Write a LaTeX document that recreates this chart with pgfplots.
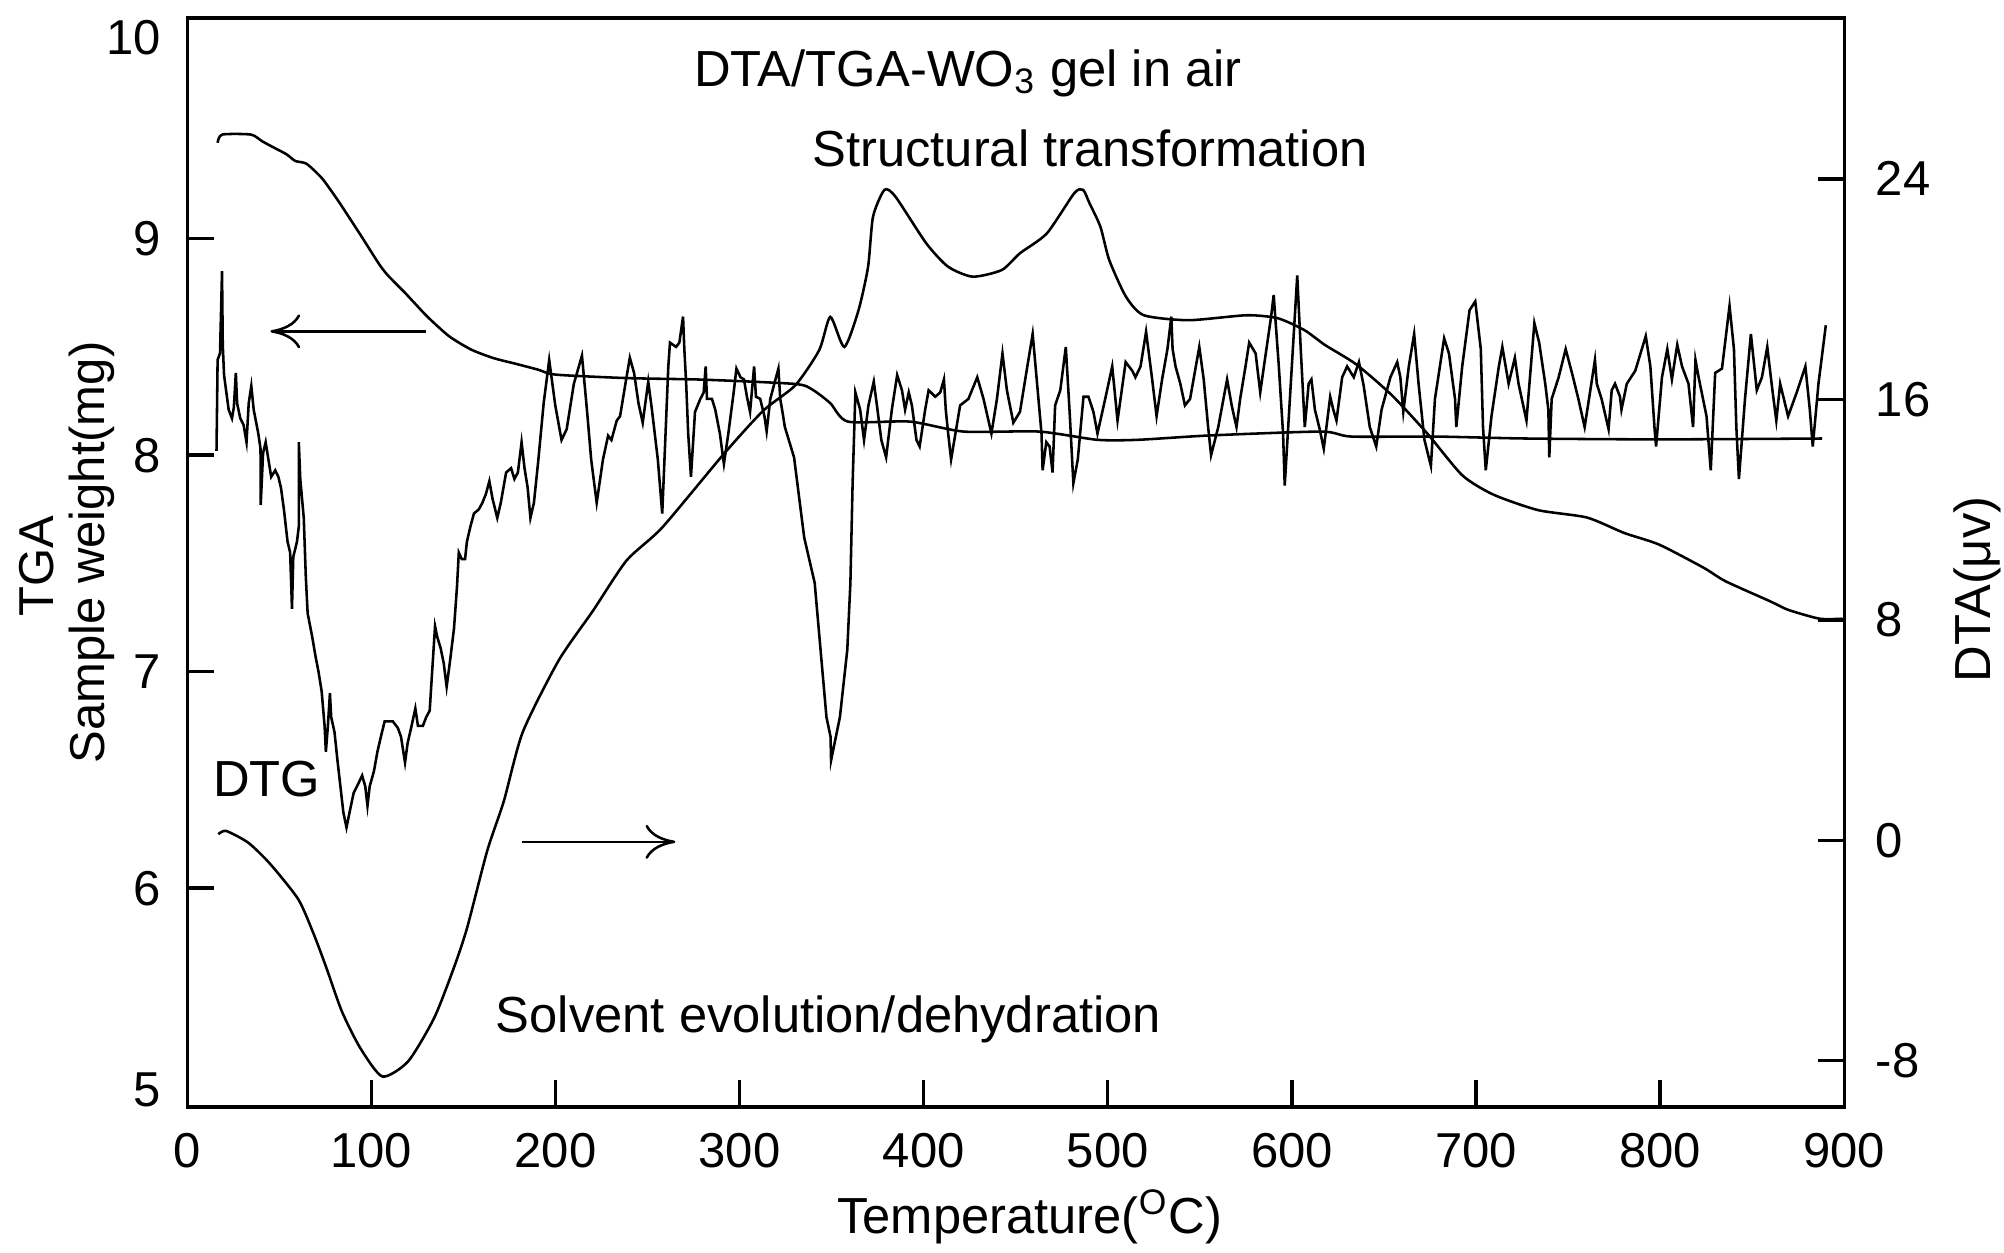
\documentclass[border=0pt]{standalone}
\usepackage{fontspec}
\setmainfont{Liberation Sans}
\usepackage{pgfplots}
\pgfplotsset{compat=1.18}
\usetikzlibrary{arrows.meta}
\newcommand{\annfont}{\fontsize{11.9}{14}\selectfont}
\newcommand{\tickfont}{\fontsize{11.5}{13.5}\selectfont}
\pgfplotsset{
  commonax/.style={
    scale only axis, width=388.95pt, height=255.6pt,
    xmin=0, xmax=900,
    tick align=inside, major tick length=6.2pt,
    tick style={line width=0.8pt, black},
    tick label style={font=\tickfont},
    /pgf/number format/assume math mode=true,
  }
}
\begin{document}
\begin{tikzpicture}
\begin{axis}[commonax, name=ax, clip=false,
  line width=0.8pt,
  ymin=4.99, ymax=10.02,
  xtick={0,100,...,900}, xtick pos=left,
  ytick={6,7,8,9}, ytick pos=left,
  extra y ticks={5.07,9.93}, extra y tick labels={5,10},
  extra y tick style={tick style={draw=none}},
  xticklabel style={yshift=-2.4pt},
  yticklabel style={xshift=-2.5pt},
]
% TGA
\addplot[black, line width=0.6pt, smooth, tension=0.4] coordinates {
(16.5,9.443) (19.0,9.481) (34.6,9.481) (40.7,9.450) (46.8,9.422) (53.9,9.390)
(58.7,9.359) (64.8,9.346) (73.1,9.280) (80.3,9.196) (85.2,9.134) (94.6,9.011)
(103.8,8.888) (108.7,8.833) (118.4,8.749) (130.3,8.641) (142.3,8.549) (154.4,8.487)
(166.5,8.448) (178.5,8.422) (190.6,8.395) (200.3,8.372) (239.0,8.356) (279.7,8.349)
(330.1,8.329) (339.7,8.302) (349.3,8.240) (358.9,8.155) (392.7,8.155) (421.8,8.109)
(462.8,8.109) (494.3,8.071) (516.4,8.071) (555.1,8.091) (615.9,8.109) (632.3,8.086)
(678.3,8.086) (727.2,8.077) (800.0,8.073) (888.0,8.077)
};
% DTG
\addplot[black, line width=0.6pt] coordinates {
(15.9,8.02) (16.5,8.44) (17.8,8.47) (18.9,8.85) (19.3,8.51) (20.0,8.37) (22.5,8.21)
(24.3,8.17) (25.3,8.22) (26.4,8.38) (27.1,8.24) (28.8,8.17) (30.6,8.14) (32.2,8.06)
(33.4,8.24) (34.8,8.32) (36.1,8.21) (38.6,8.10) (39.8,8.03) (39.9,7.77) (41.2,8.01)
(42.6,8.06) (43.9,7.99) (45.6,7.90) (47.8,7.93) (49.5,7.90) (50.9,7.85) (52.5,7.75)
(54.5,7.60) (55.9,7.55) (56.9,7.29) (57.6,7.53) (59.6,7.60) (60.6,7.67) (60.6,8.06)
(61.4,7.89) (63.3,7.71) (64.4,7.44) (65.4,7.27) (67.9,7.16) (69.7,7.07) (71.3,7.00)
(73.0,6.91) (74.6,6.75) (75.3,6.63) (76.4,6.75) (77.5,6.90) (78.2,6.79) (80.0,6.72)
(81.6,6.59) (83.2,6.47) (84.8,6.35) (86.5,6.28) (88.4,6.36) (90.4,6.44) (92.2,6.47)
(95.0,6.52) (96.7,6.47) (97.9,6.38) (99.1,6.47) (101.4,6.54) (103.3,6.63) (105.2,6.70)
(107.2,6.77) (109.9,6.77) (111.7,6.77) (114.4,6.74) (116.1,6.70) (118.3,6.58) (119.7,6.67)
(121.6,6.74) (123.9,6.83) (125.3,6.75) (128.0,6.75) (129.8,6.79) (131.7,6.82) (132.8,6.97)
(134.6,7.21) (135.8,7.16) (137.6,7.11) (139.3,7.04) (140.9,6.93) (142.9,7.06) (144.9,7.20)
(146.5,7.39) (147.5,7.55) (149.1,7.52) (150.9,7.52) (151.9,7.60) (153.8,7.67) (155.7,7.73)
(158.4,7.75) (160.3,7.78) (162.2,7.82) (164.1,7.88) (165.8,7.80) (168.4,7.71) (170.3,7.78)
(173.2,7.92) (175.9,7.94) (177.7,7.89) (179.6,7.92) (181.6,8.06) (183.2,7.94) (184.9,7.85)
(186.4,7.71) (188.3,7.78) (190.5,7.96) (193.6,8.24) (196.6,8.44)
(199.9,8.23) (203.3,8.07) (206.1,8.12) (210.0,8.33) (214.4,8.46) (217.1,8.21) (219.4,7.98)
(222.4,7.78) (225.8,7.98) (228.6,8.09) (230.4,8.07) (233.3,8.16) (235.1,8.18) (238.0,8.33)
(240.4,8.45) (242.7,8.38) (245.1,8.24) (247.4,8.15) (250.4,8.34) (252.4,8.21) (255.6,7.98)
(258.0,7.73) (261.3,8.41) (262.2,8.52) (265.5,8.50) (267.3,8.52) (269.3,8.64) (270.0,8.49)
(271.0,8.33) (272.1,8.10) (273.6,7.90) (275.8,8.20) (278.7,8.26) (280.5,8.29) (281.6,8.41)
(282.3,8.26) (285.0,8.26) (286.8,8.21) (289.3,8.10) (291.5,7.96) (293.9,8.10) (296.8,8.29)
(298.3,8.40) (300.5,8.36) (302.4,8.35) (304.0,8.27) (305.7,8.20) (307.9,8.41) (308.9,8.27)
(311.2,8.26) (313.5,8.18) (314.7,8.11) (316.7,8.26) (319.5,8.35) (321.1,8.40) (322.1,8.26)
(323.3,8.20) (324.6,8.13)
(329.6,7.99) (335.1,7.62) (340.8,7.41) (344.0,7.10) (347.2,6.79) (349.4,6.70) (349.7,6.59)
(354.5,6.79) (358.5,7.10) (360.2,7.41) (361.4,7.87) (362.9,8.29)
(365.5,8.21) (367.6,8.07) (370.0,8.23) (372.9,8.34) (374.6,8.23) (377.0,8.07) (379.6,7.99)
(382.7,8.21) (385.6,8.37) (388.2,8.30) (389.9,8.21) (391.9,8.29) (393.6,8.23) (396.1,8.07)
(397.8,8.04) (400.8,8.21) (402.7,8.30) (406.3,8.27) (409.0,8.29) (411.0,8.35) (412.0,8.21)
(413.3,8.10) (414.9,7.98)
(419.8,8.23) (424.3,8.26) (429.1,8.36) (432.5,8.26) (436.8,8.10) (439.8,8.26) (442.8,8.47)
(445.2,8.30) (448.7,8.15) (452.3,8.20) (456.3,8.41) (459.2,8.56) (461.6,8.33) (464.0,8.10)
(464.6,7.93) (466.6,8.06) (468.4,8.04) (470.0,7.92) (471.4,8.23) (474.2,8.30) (477.2,8.50)
(479.4,8.18) (481.3,7.87) (483.7,7.98) (486.8,8.27) (489.5,8.27) (492.2,8.20) (494.4,8.10)
(498.6,8.26) (502.4,8.41) (505.3,8.16) (509.7,8.43) (513.3,8.39) (515.0,8.36) (517.8,8.41)
(520.8,8.57) (524.1,8.35) (526.5,8.18) (529.5,8.35) (532.4,8.49) (534.5,8.64) (535.2,8.49)
(536.8,8.41) (539.4,8.33) (541.9,8.23) (544.7,8.26) (549.7,8.50) (552.1,8.35) (554.5,8.13)
(556.1,8.00) (560.0,8.13) (564.8,8.35) (567.3,8.23) (569.9,8.13) (571.9,8.26) (574.8,8.41)
(576.8,8.52) (580.3,8.47) (582.8,8.29) (584.8,8.41) (588.7,8.64) (590.1,8.74) (592.9,8.41)
(595.2,8.10) (596.1,7.86) (602.9,8.83) (604.8,8.49) (607.0,8.13) (609.1,8.33) (610.6,8.35)
(612.5,8.21) (615.1,8.12) (617.3,8.03) (620.8,8.27) (622.5,8.21) (624.2,8.16) (627.3,8.36)
(630.0,8.41) (633.6,8.36) (636.4,8.43) (639.0,8.32) (642.3,8.13) (645.8,8.04) (648.7,8.21)
(653.5,8.36) (657.2,8.43)
(658.9,8.36) (660.5,8.20) (663.5,8.41) (666.4,8.56) (668.8,8.33) (672.0,8.07) (675.5,7.95)
(677.7,8.26) (682.7,8.54) (685.3,8.47) (688.6,8.26) (689.3,8.13) (692.5,8.41) (696.5,8.67)
(699.6,8.71) (702.6,8.49) (703.8,8.13) (705.3,7.93) (708.4,8.18) (712.4,8.41) (714.3,8.50)
(717.7,8.33) (721.1,8.45) (723.1,8.33) (727.4,8.16) (731.7,8.61) (734.3,8.52) (737.6,8.33)
(739.3,8.21) (739.8,7.99) (741.1,8.26) (744.9,8.36) (748.7,8.49) (752.1,8.38) (755.6,8.26)
(759.0,8.13) (763.0,8.35) (764.6,8.44) (765.6,8.33) (768.2,8.26) (772.0,8.12) (773.7,8.30)
(775.5,8.33) (778.2,8.27) (779.0,8.21) (781.9,8.33) (786.5,8.39) (792.2,8.55) (794.7,8.41)
(797.0,8.12) (797.8,8.04) (801.0,8.36) (803.9,8.49) (806.4,8.35) (809.3,8.51) (811.9,8.41)
(815.4,8.33) (817.9,8.13) (819.2,8.44) (820.9,8.36) (825.2,8.18) (827.5,7.93) (829.9,8.38)
(833.6,8.40) (837.7,8.69) (840.1,8.49) (841.4,8.13) (842.8,7.89) (846.1,8.26) (849.3,8.56)
(852.5,8.30) (855.3,8.36) (858.2,8.50) (860.7,8.32) (863.1,8.16) (865.2,8.33) (869.5,8.18)
(874.2,8.29) (878.9,8.41) (881.3,8.21) (882.9,8.04) (886.0,8.33) (890.0,8.60)
};
% annotations
\draw[line width=0.6pt, -{Computer Modern Rightarrow[length=7pt,width=8pt]}] (axis cs:129.5,8.572) -- (axis cs:45.2,8.572);
\draw[line width=0.6pt, -{Computer Modern Rightarrow[length=7pt,width=8pt]}] (axis cs:182.0,6.214) -- (axis cs:265.1,6.214);
\node[font=\annfont, anchor=base west, inner sep=0pt] at (axis description cs:0.3049,0.9372) {DTA/TGA-WO\textsubscript{3} gel in air};
\node[font=\annfont, anchor=base west, inner sep=0pt] at (axis description cs:0.3763,0.8634) {Structural transformation};
\node[font=\annfont, anchor=base west, inner sep=0pt] at (axis description cs:0.0147,0.2852) {DTG};
\node[font=\annfont, anchor=base west, inner sep=0pt] at (axis description cs:0.1853,0.0681) {Solvent evolution/dehydration};
\node[font=\annfont, anchor=base west, inner sep=0pt] at (axis description cs:0.3913,-0.1162) {Temperature(\textsuperscript{O}C)};
\node[font=\tickfont, rotate=90, anchor=base, inner sep=0pt] at (axis description cs:-0.0806,0.4965) {TGA};
\node[font=\tickfont, rotate=90, anchor=base, inner sep=0pt] at (axis description cs:-0.0497,0.509) {Sample weight(mg)};
\node[font=\annfont, rotate=90, anchor=base, inner sep=0pt] at (axis description cs:1.088,0.475) {DTA(μv)};
\end{axis}
\begin{axis}[commonax,
  line width=0.8pt,
  ymin=-9.67, ymax=29.84,
  axis x line=none, axis y line*=right,
  ytick={-8,0,8,16,24},
  yticklabel style={xshift=3.7pt},
]
% DTA
\addplot[black, line width=0.6pt, smooth, tension=0.4] coordinates {
(16.9,0.22) (21.1,0.34) (33.2,-0.09) (45.2,-0.87) (60.4,-2.15) (68.8,-3.42) (75.6,-4.63)
(84.0,-6.21) (94.0,-7.54) (106.0,-8.57) (120.0,-8.02) (134.1,-6.45) (144.8,-4.63)
(152.0,-3.18) (162.9,-0.39) (172.0,1.43) (182.2,3.92) (201.7,6.52) (220.4,8.33)
(238.6,10.15) (258.0,11.35) (291.6,14.03) (312.9,15.59) (330.3,16.51) (343.3,17.79)
(349.3,18.99) (356.9,17.90) (364.6,19.23) (369.8,20.81) (372.5,22.63) (378.7,23.60)
(384.7,23.35) (401.4,21.66) (413.3,20.81) (426.6,20.45) (442.4,20.69) (452.3,21.30)
(466.9,22.02) (481.8,23.48) (486.6,23.60) (490.1,23.11) (496.0,22.26) (500.8,21.05)
(509.9,19.72) (519.6,19.05) (543.9,18.87) (575.4,19.05) (592.4,18.94) (606.8,18.51)
(618.0,17.97) (634.9,17.27) (654.1,16.16) (673.4,14.77) (692.6,13.24) (709.5,12.54)
(733.7,11.98) (760.3,11.71) (780.5,11.15) (799.4,10.73) (823.6,9.89) (835.5,9.40)
(859.8,8.67) (869.6,8.36) (886.6,8.04) (899,8.04)
};
\end{axis}
\pgfresetboundingbox
\path[use as bounding box] ([xshift=-43.95pt,yshift=-34.2pt]ax.south west) rectangle ([xshift=37.5pt,yshift=4.2pt]ax.north east);
\end{tikzpicture}
\end{document}
